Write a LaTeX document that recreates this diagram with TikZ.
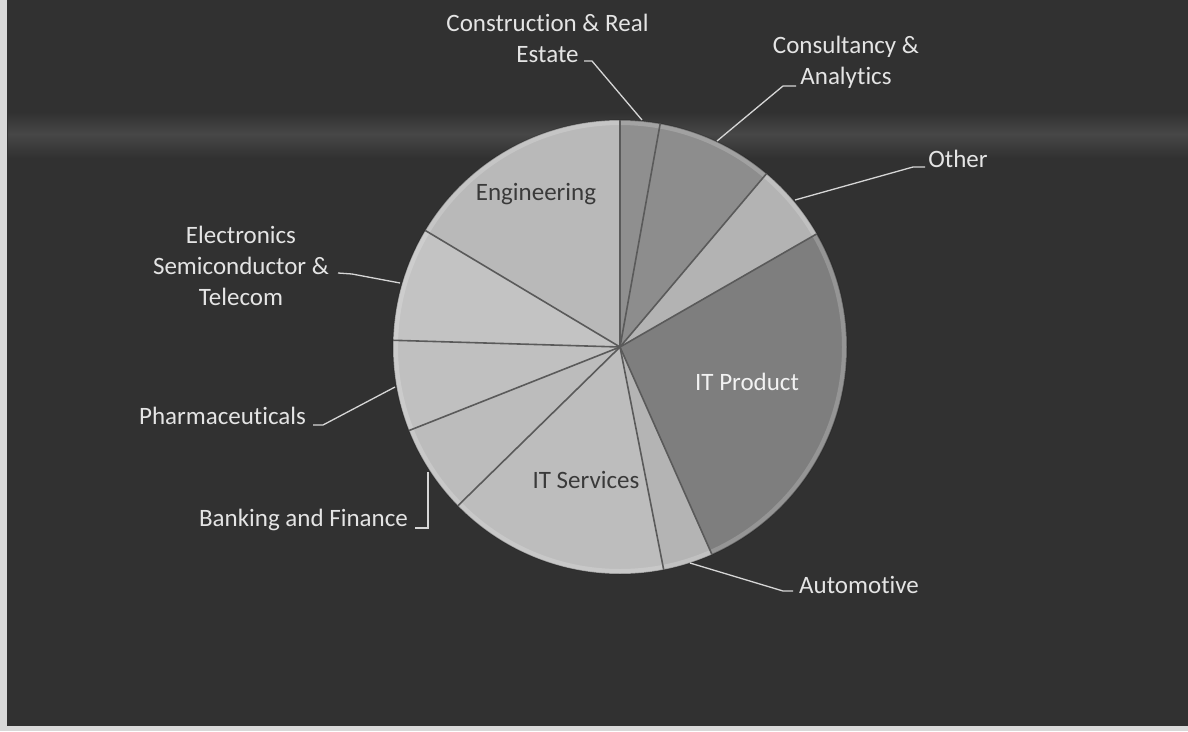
\documentclass[tikz,border=0pt]{standalone}
\usepackage{fontspec}
\setmainfont[RawFeature={-liga;-clig;-calt;-dlig;-rlig}]{Carlito}
\usetikzlibrary{calc}
\definecolor{bgc}{HTML}{313131}
\definecolor{bandc}{HTML}{474747}
\definecolor{lblc}{HTML}{E4E4E4}
\definecolor{leadc}{HTML}{D6D6D6}
\definecolor{sepc}{HTML}{5A5A5A}
\definecolor{darktxt}{HTML}{3A3A3A}
\definecolor{cEng}{HTML}{B9B9B9}
\definecolor{cEle}{HTML}{C3C3C3}
\definecolor{cPha}{HTML}{C0C0C0}
\definecolor{cBan}{HTML}{BCBCBC}
\definecolor{cITS}{HTML}{BDBDBD}
\definecolor{cAut}{HTML}{B4B4B4}
\definecolor{cITP}{HTML}{7E7E7E}
\definecolor{cOth}{HTML}{B3B3B3}
\definecolor{cCon}{HTML}{8D8D8D}
\definecolor{cCRE}{HTML}{8F8F8F}
\tikzset{
  lbl/.style={text=lblc, font=\fontsize{25}{31}\selectfont, align=center, inner sep=0pt},
  inlbl/.style={font=\fontsize{25}{31}\selectfont, inner sep=0pt},
  leader/.style={draw=leadc, line width=1.3pt},
  sep/.style={draw=sepc, line width=1.6pt},
}
\newcommand{\pieslice}[3]{%
  \fill[#3] (ctr) -- ($(ctr)+(#1:227pt)$) arc[start angle=#1, end angle=#2, radius=227pt] -- cycle;}
\begin{document}
\begin{tikzpicture}[x=1pt,y=-1pt]
\useasboundingbox (0,0) rectangle (1188,731);
% background
\fill[bgc] (0,0) rectangle (1188,731);
\shade[top color=bgc, bottom color=bandc] (8,112) rectangle (1188,134);
\shade[top color=bandc, bottom color=bgc] (8,134) rectangle (1188,158);
\fill[white!85!black] (0,0) rectangle (7,731);
\fill[white!85!black] (0,726) rectangle (1188,731);
% pie
\coordinate (ctr) at (620,347);
\pieslice{90}{149.1}{cEng}
\pieslice{149.1}{178.3}{cEle}
\pieslice{178.3}{201.6}{cPha}
\pieslice{201.6}{224.4}{cBan}
\pieslice{224.4}{281.1}{cITS}
\pieslice{281.1}{293.9}{cAut}
\pieslice{293.9}{389.9}{cITP}
\pieslice{29.9}{49.8}{cOth}
\pieslice{49.8}{79.8}{cCon}
\pieslice{79.8}{90}{cCRE}
% soft rim
\draw[white, opacity=0.18, line width=4pt] (ctr) circle[radius=224pt];
\draw[black, opacity=0.25, line width=1pt] (ctr) circle[radius=227pt];
% separators
\foreach \a in {90,149.1,178.3,201.6,224.4,281.1,293.9,29.9,49.8,79.8}{
  \draw[sep] (ctr) -- ($(ctr)+(\a:227pt)$);
}
% inner labels
\node[inlbl, text=darktxt] (eng) at (536,194) {Engineering};
\node[inlbl, text=white!95!black] (itp) at (747,382) {IT Product};
\node[inlbl, text=darktxt] (its) at (586,480) {IT Services};
% outer labels
\node[lbl] (cre) at (547.5,38) {Construction \& Real\\Estate};
\node[lbl] (con) at (846,62) {Consultancy \&\\Analytics};
\node[lbl] (oth) at (958,159) {Other};
\node[lbl] (ele) at (241,266) {Electronics\\Semiconductor \&\\Telecom};
\node[lbl] (pha) at (222.5,416) {Pharmaceuticals};
\node[lbl] (ban) at (303.5,520) {Banking and Finance};
\node[lbl] (aut) at (859,585) {Automotive};
% leader lines
\coordinate (creA) at (584,61); \coordinate (creB) at (592,61); \coordinate (creP) at (642,120);
\coordinate (conA) at (796,86); \coordinate (conB) at (783,86); \coordinate (conP) at (717,141);
\coordinate (othA) at (925,167); \coordinate (othB) at (913,167); \coordinate (othP) at (795,200);
\coordinate (eleA) at (338,273); \coordinate (eleB) at (352,274); \coordinate (eleP) at (400,283);
\coordinate (phaA) at (313,425); \coordinate (phaB) at (323,425); \coordinate (phaP) at (395,387);
\coordinate (banA) at (415,528); \coordinate (banB) at (428,528); \coordinate (banP) at (428,472);
\coordinate (autA) at (793,591); \coordinate (autB) at (783,591); \coordinate (autP) at (690,563);
\draw[leader] (creA) -- (creB) -- (creP);
\draw[leader] (conA) -- (conB) -- (conP);
\draw[leader] (othA) -- (othB) -- (othP);
\draw[leader] (eleA) -- (eleB) -- (eleP);
\draw[leader] (phaA) -- (phaB) -- (phaP);
\draw[leader] (banA) -- (banB) -- (banP);
\draw[leader] (autA) -- (autB) -- (autP);
\end{tikzpicture}
\end{document}
